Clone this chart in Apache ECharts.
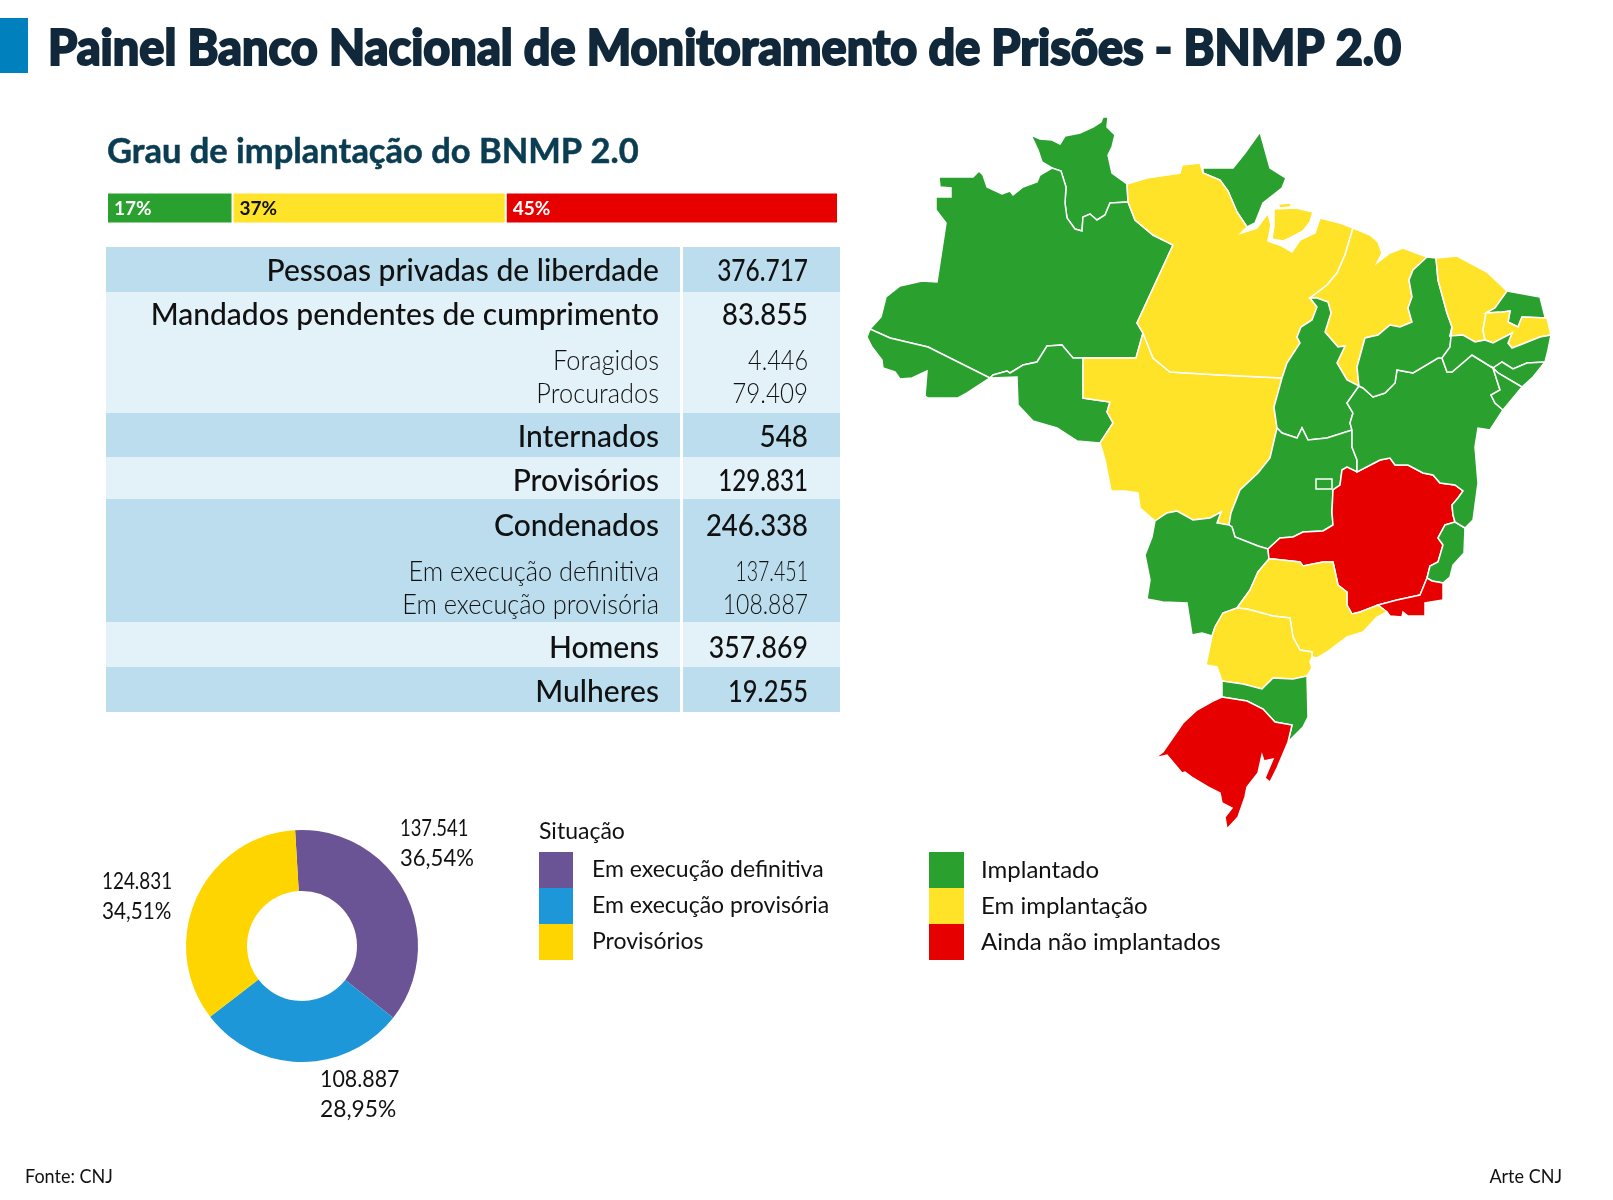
<!DOCTYPE html>
<html>
<head>
	<meta charset="UTF-8">
	<title>Painel BNMP 2.0</title>
	<script src="https://cdn.jsdelivr.net/npm/echarts@6/dist/echarts.min.js"></script>
	<style>
		html, body { margin: 0; padding: 0; background: #fff; }
		#main { width: 1613px; height: 1200px; }
	</style>
</head>
<body>
	<div id="main"></div>
	<script type="text/javascript">
		// dados
		var titleText = 'Painel Banco Nacional de Monitoramento de Prisões - BNMP 2.0';
		var subtitleText = 'Grau de implantação do BNMP 2.0';
		var statusNames = ['Implantado', 'Em implantação', 'Ainda não implantados'];
		var statusShare = [17, 37, 45];

		var rowLabels = ['Pessoas privadas de liberdade', 'Mandados pendentes de cumprimento', 'Foragidos', 'Procurados', 'Internados', 'Provisórios', 'Condenados', 'Em execução definitiva', 'Em execução provisória', 'Homens', 'Mulheres'];
		var rowValues = ['376.717', '83.855', '4.446', '79.409', '548', '129.831', '246.338', '137.451', '108.887', '357.869', '19.255'];

		var situationNames = ['Em execução definitiva', 'Em execução provisória', 'Provisórios'];
		var situationShare = [36.54, 28.95, 34.51];
		var situationCounts = ['137.541', '108.887', '124.831'];
		var situationShareLabels = ['36,54%', '28,95%', '34,51%'];

		var statesImplantado = ['AM', 'RR', 'AP', 'AC', 'RO', 'TO', 'PI', 'RN', 'PE', 'AL', 'SE', 'BA', 'GO', 'DF', 'MS', 'ES', 'SC'];
		var statesEmImplantacao = ['PA', 'MA', 'CE', 'PB', 'MT', 'SP', 'PR'];
		var statesAindaNao = ['MG', 'RJ', 'RS'];

		// contornos dos estados: trechos de fronteira compartilhados
		var seg = {
			rr_coast: [[1052,168],[1042,162],[1038,150],[1031,135],[1040,139],[1052,140],[1060,144],[1065,136],[1080,133],[1093,127],[1101,122],[1103,117],[1108,117],[1107,127],[1115,135],[1112,147],[1108,155],[1112,173],[1127,184]],
			rr_pa: [[1127,184],[1128,202]],
			rr_am: [[1128,202],[1110,203],[1105,215],[1097,220],[1090,214],[1083,217],[1082,231],[1075,229],[1067,218],[1065,203],[1066,187],[1061,171],[1052,168]],
			am_coast: [[1052,168],[1040,175],[1037,182],[1023,187],[1013,195],[1010,191],[1002,194],[987,187],[983,175],[979,171],[973,177],[939,177],[940,187],[951,188],[951,197],[936,197],[936,210],[946,223],[937,282],[922,281],[900,286],[886,297],[881,317],[870,329]],
			am_ac: [[870,329],[890,338],[928,347],[990,378]],
			am_ro: [[990,378],[993,375],[1007,371],[1010,373],[1023,365],[1037,362],[1047,346],[1062,345],[1073,358],[1083,358]],
			am_mt: [[1083,358],[1136,358],[1143,333]],
			am_pa: [[1143,333],[1137,323],[1173,245],[1153,235],[1135,220],[1128,202]],
			ac_coast: [[990,378],[967,393],[958,398],[928,398],[925,396],[927,371],[912,378],[900,379],[895,372],[883,368],[882,360],[872,347],[867,337],[870,329]],
			ro_mt: [[1083,358],[1083,398],[1110,402],[1107,412],[1113,423],[1100,443]],
			ro_coast: [[1100,443],[1077,441],[1057,428],[1033,421],[1018,405],[1017,377],[990,378]],
			mt_coast: [[1100,443],[1105,460],[1111,491],[1125,491],[1138,493],[1140,508],[1155,521]],
			mt_ms: [[1155,521],[1167,513],[1177,511],[1193,520],[1210,518],[1221,512],[1217,523],[1229,525]],
			mt_go: [[1229,525],[1231,513],[1240,490],[1258,473],[1270,458],[1277,428]],
			mt_to: [[1277,428],[1274,407],[1282,378]],
			mt_pa: [[1282,378],[1220,375],[1170,372],[1153,358],[1143,333]],
			pa_coast: [[1127,184],[1147,178],[1180,173],[1182,165],[1200,163],[1203,173]],
			pa_ap: [[1203,173],[1220,180],[1228,191],[1237,212],[1247,227]],
			ap_coast: [[1203,173],[1203,168],[1233,168],[1245,153],[1260,132],[1270,168],[1286,178],[1282,188],[1263,203],[1255,223],[1247,227]],
			pa_coast2: [[1247,227],[1241,233],[1257,228],[1268,213],[1271,225],[1268,241],[1282,246],[1292,252],[1300,240],[1315,233],[1320,218],[1340,223],[1353,228]],
			pa_ma: [[1353,228],[1345,255],[1337,273],[1327,285],[1310,298]],
			pa_to: [[1310,298],[1317,307],[1312,320],[1301,327],[1297,337],[1300,343],[1287,363],[1282,378]],
			ma_coast: [[1353,228],[1370,235],[1378,242],[1382,253],[1377,263],[1390,253],[1403,248],[1427,257]],
			ma_pi: [[1427,257],[1413,270],[1409,280],[1412,297],[1408,308],[1412,322],[1400,327],[1390,325],[1378,335],[1365,338],[1357,367],[1359,386]],
			ma_to: [[1359,386],[1347,380],[1337,363],[1345,346],[1338,347],[1325,332],[1331,313],[1328,302],[1317,298],[1310,298]],
			to_go: [[1277,428],[1282,433],[1297,438],[1302,428],[1308,440],[1327,438],[1352,430]],
			to_ba: [[1352,430],[1350,423],[1353,413],[1347,403],[1359,386]],
			go_ba: [[1352,430],[1352,447],[1357,460],[1357,472]],
			go_mg: [[1357,472],[1347,467],[1342,470],[1340,485],[1333,490],[1332,512],[1333,525],[1323,531],[1303,532],[1293,537],[1280,538],[1268,549]],
			go_ms: [[1268,549],[1258,546],[1235,537],[1232,527],[1229,525]],
			ms_mg: [[1268,549],[1269,559]],
			ms_sp: [[1269,559],[1258,572],[1250,590],[1237,608]],
			ms_pr: [[1237,608],[1223,613],[1215,627],[1212,636]],
			ms_coast: [[1212,636],[1202,633],[1192,635],[1187,603],[1163,602],[1147,599],[1150,580],[1147,565],[1145,555],[1152,537],[1155,521]],
			ba_mg: [[1357,472],[1380,460],[1390,458],[1395,465],[1408,465],[1423,473],[1433,475],[1440,483],[1455,485],[1463,491],[1458,498],[1452,505],[1453,515],[1455,522]],
			mg_es: [[1455,522],[1445,525],[1438,538],[1443,545],[1438,562],[1430,566],[1427,578]],
			ba_es: [[1455,522],[1465,528]],
			es_coast: [[1465,528],[1464,553],[1453,565],[1450,577],[1443,583]],
			es_rj: [[1443,583],[1432,581],[1427,578]],
			mg_rj: [[1427,578],[1420,595],[1397,600],[1378,605]],
			rj_sp: [[1378,605],[1387,612]],
			rj_coast: [[1387,612],[1390,616],[1402,617],[1403,612],[1408,616],[1425,616],[1425,603],[1443,600],[1443,583]],
			mg_sp: [[1378,605],[1360,612],[1352,614],[1347,605],[1347,592],[1338,585],[1333,562],[1323,562],[1303,566],[1300,562],[1273,559],[1269,559]],
			sp_coast: [[1387,612],[1377,617],[1363,632],[1347,637],[1327,652],[1317,658],[1312,657]],
			sp_pr: [[1312,657],[1312,652],[1300,650],[1293,637],[1290,618],[1273,616],[1247,609],[1237,608]],
			pr_coast: [[1312,657],[1310,662],[1312,668],[1307,676]],
			pr_sc: [[1307,676],[1293,679],[1273,678],[1262,689],[1243,684],[1222,681]],
			pr_west: [[1222,681],[1217,667],[1206,665],[1212,636]],
			sc_west: [[1222,681],[1222,697]],
			sc_rs: [[1222,697],[1247,701],[1263,709],[1275,722],[1292,725],[1288,742]],
			sc_coast: [[1288,742],[1303,727],[1308,717],[1307,676]],
			rs_coast: [[1222,697],[1213,701],[1197,710],[1183,723],[1163,752],[1155,758],[1167,755],[1182,773],[1185,772],[1193,778],[1208,787],[1220,793],[1222,803],[1232,808],[1225,817],[1227,829],[1238,817],[1245,797],[1247,787],[1258,773],[1262,755],[1264,761],[1273,759],[1265,778],[1270,782],[1277,768],[1288,742]],
			ba_coast: [[1465,528],[1473,520],[1478,483],[1475,447],[1478,428],[1490,430],[1503,410]],
			ba_se: [[1503,410],[1495,403],[1491,395],[1500,390],[1493,368]],
			ba_pe: [[1493,368],[1472,355],[1452,372],[1447,372],[1442,358]],
			ba_pi: [[1442,358],[1438,358],[1413,373],[1397,370],[1395,383],[1385,393],[1373,397],[1363,388],[1359,386]],
			pi_top: [[1427,257],[1436,258]],
			pi_ce: [[1436,258],[1438,280],[1447,313],[1452,327]],
			pi_pe: [[1452,327],[1450,347],[1442,358]],
			ce_coast: [[1436,258],[1457,256],[1487,272],[1507,291]],
			ce_rn: [[1507,291],[1495,308],[1486,313]],
			ce_pb: [[1486,313],[1483,330],[1485,340]],
			ce_pe: [[1485,340],[1475,342],[1463,335],[1450,336],[1452,327]],
			rn_coast: [[1507,291],[1540,297],[1545,317],[1547,318]],
			rn_pb: [[1547,318],[1522,317],[1518,327],[1508,322],[1510,311],[1502,312],[1486,313]],
			pb_coast: [[1547,318],[1551,335]],
			pb_pe: [[1551,335],[1540,337],[1520,345],[1512,348],[1508,343],[1512,333],[1493,343],[1485,340]],
			pe_coast: [[1551,335],[1548,350],[1545,362]],
			pe_al: [[1545,362],[1527,363],[1513,369],[1502,362],[1493,368]],
			al_coast: [[1545,362],[1533,377],[1522,387]],
			al_se: [[1522,387],[1498,373],[1493,368]],
			se_coast: [[1522,387],[1503,410]]
		};

		// '-' na frente do nome percorre o trecho ao contrário
		var stateRings = {
			RR: ['rr_coast', 'rr_pa', 'rr_am'],
			AM: ['am_coast', 'am_ac', 'am_ro', 'am_mt', 'am_pa', 'rr_am'],
			AC: ['ac_coast', 'am_ac'],
			RO: ['am_ro', 'ro_mt', 'ro_coast'],
			MT: ['-am_mt', 'ro_mt', 'mt_coast', 'mt_ms', 'mt_go', 'mt_to', 'mt_pa'],
			AP: ['ap_coast', '-pa_ap'],
			PA: ['pa_coast', 'pa_ap', 'pa_coast2', 'pa_ma', 'pa_to', 'mt_pa', 'am_pa', '-rr_pa'],
			MA: ['ma_coast', 'ma_pi', 'ma_to', '-pa_ma'],
			TO: ['pa_to', '-mt_to', 'to_go', 'to_ba', 'ma_to'],
			GO: ['mt_go', 'to_go', 'go_ba', 'go_mg', 'go_ms'],
			MS: ['mt_ms', '-go_ms', 'ms_mg', 'ms_sp', 'ms_pr', 'ms_coast'],
			MG: ['-go_mg', 'ba_mg', 'mg_es', 'mg_rj', 'mg_sp', '-ms_mg'],
			ES: ['ba_es', 'es_coast', 'es_rj', '-mg_es'],
			RJ: ['mg_rj', 'rj_sp', 'rj_coast', 'es_rj'],
			SP: ['-ms_sp', '-mg_sp', 'rj_sp', 'sp_coast', 'sp_pr'],
			PR: ['-sp_pr', 'pr_coast', 'pr_sc', 'pr_west', '-ms_pr'],
			SC: ['pr_sc', 'sc_west', 'sc_rs', 'sc_coast'],
			RS: ['-sc_rs', 'rs_coast'],
			BA: ['go_ba', 'ba_mg', 'ba_es', 'ba_coast', 'ba_se', 'ba_pe', 'ba_pi', '-to_ba'],
			PI: ['-ma_pi', 'pi_top', 'pi_ce', 'pi_pe', 'ba_pi'],
			CE: ['ce_coast', 'ce_rn', 'ce_pb', 'ce_pe', '-pi_ce'],
			RN: ['rn_coast', 'rn_pb', '-ce_rn'],
			PB: ['-rn_pb', 'pb_coast', 'pb_pe', '-ce_pb'],
			PE: ['-pb_pe', 'pe_coast', 'pe_al', 'ba_pe', '-pi_pe', '-ce_pe'],
			AL: ['al_coast', 'al_se', '-pe_al'],
			SE: ['-al_se', 'se_coast', 'ba_se']
		};
		var marajo = [[1274,209],[1296,208],[1313,212],[1310,222],[1303,231],[1290,238],[1283,241],[1272,239],[1274,226]];
		var ilhota = [[1278,204],[1292,203],[1290,207],[1280,208]];
		var distritoFederal = [[1316,479],[1332,479],[1332,489],[1316,489]];

		function buildRing(names) {
			var ring = [];
			names.forEach(function (name) {
				var rev = name.charAt(0) === '-';
				var pts = seg[rev ? name.slice(1) : name].slice();
				if (rev) pts.reverse();
				ring = ring.concat(pts);
			});
			return ring;
		}

		var minX = 1e9, maxX = -1e9, minY = 1e9, maxY = -1e9;
		function toGeo(ring) {
			var out = ring.map(function (p) {
				minX = Math.min(minX, p[0]); maxX = Math.max(maxX, p[0]);
				minY = Math.min(minY, p[1]); maxY = Math.max(maxY, p[1]);
				return [p[0], -p[1]];
			});
			out.push(out[0]);
			return out;
		}

		var features = [];
		Object.keys(stateRings).forEach(function (uf) {
			var polys = [[toGeo(buildRing(stateRings[uf]))]];
			if (uf === 'PA') {
				polys.push([toGeo(marajo)]);
				polys.push([toGeo(ilhota)]);
			}
			features.push({ type: 'Feature', properties: { name: uf }, geometry: { type: 'MultiPolygon', coordinates: polys } });
		});
		// o DF fica por cima de Goiás
		features.push({ type: 'Feature', properties: { name: 'DF' }, geometry: { type: 'Polygon', coordinates: [toGeo(distritoFederal)] } });
		echarts.registerMap('brasil', { type: 'FeatureCollection', features: features });

		var stateData = [];
		[statesImplantado, statesEmImplantacao, statesAindaNao].forEach(function (list, i) {
			list.forEach(function (uf) { stateData.push({ name: uf, value: i + 1 }); });
		});

		// layout e cores
		var GREEN = '#2aa02f', YELLOW = '#ffe329', RED = '#e60000';
		var DARK = '#bbddee', LIGHT = '#e3f1f8';
		var FONT = 'Lato, sans-serif';
		var bandTops = [247, 292, 413, 457, 499, 622, 667, 712];
		var bandFill = [DARK, LIGHT, DARK, LIGHT, DARK, LIGHT, DARK];
		var rowCenters = [271, 315, 361, 394, 437, 481, 526, 572, 605, 648, 692];
		var isSubRow = [0, 0, 1, 1, 0, 0, 0, 1, 1, 0, 0];
		// a fonte do original tem algarismos proporcionais; o Lato não
		var valueScale = [0.815, 0.914, 0.87, 0.895, 0.93, 0.805, 0.916, 0.725, 0.85, 0.89, 0.85];
		var pieLabelPos = [[400, 829], [320, 1080], [102, 882]];
		var pieCountScale = [0.8, 0.93, 0.82];
		var pieShareScale = [0.96, 0.99, 0.9];

		function txt(text, x, y, size, opt) {
			opt = opt || {};
			return {
				type: 'text', x: x, y: y, scaleX: opt.sx || 1, silent: true,
				style: {
					text: text, fill: opt.color || '#111', textAlign: opt.align || 'left', textVerticalAlign: 'middle',
					stroke: opt.stroke ? (opt.color || '#111') : null, lineWidth: opt.stroke || 0,
					font: (opt.weight || 400) + ' ' + size + 'px ' + FONT
				}
			};
		}

		var graphics = [
			{ type: 'rect', shape: { x: 0, y: 18, width: 28, height: 55 }, style: { fill: '#0080bd' }, silent: true },
			txt(titleText, 48, 49, 49, { weight: 900, color: '#10283a', sx: 0.955, stroke: 2 }),
			txt(subtitleText, 107, 152, 35, { weight: 700, color: '#0a3c52', sx: 0.985, stroke: 0.5 }),
			txt('Situação', 539, 832, 23),
			txt('Fonte: CNJ', 25, 1177, 20, { sx: 0.9 }),
			txt('Arte CNJ', 1562, 1177, 20, { align: 'right', sx: 0.9 })
		];
		bandFill.forEach(function (fill, i) {
			graphics.push({ type: 'rect', shape: { x: 106, y: bandTops[i], width: 574, height: bandTops[i + 1] - bandTops[i] }, style: { fill: fill }, silent: true });
			graphics.push({ type: 'rect', shape: { x: 683, y: bandTops[i], width: 157, height: bandTops[i + 1] - bandTops[i] }, style: { fill: fill }, silent: true });
		});
		rowLabels.forEach(function (label, i) {
			var sub = isSubRow[i];
			var o = { align: 'right', weight: sub ? 300 : 500, color: '#111', sx: sub ? 0.94 : 1 };
			graphics.push(txt(label, 659, rowCenters[i], sub ? 27 : 30, o));
			graphics.push(txt(rowValues[i], 808, rowCenters[i], sub ? 27 : 30, { align: 'right', weight: o.weight, color: o.color, sx: valueScale[i] }));
		});
		situationCounts.forEach(function (count, i) {
			var pos = pieLabelPos[i];
			graphics.push(txt(count, pos[0], pos[1], 23, { sx: pieCountScale[i] }));
			graphics.push(txt(situationShareLabels[i], pos[0], pos[1] + 30, 23, { sx: pieShareScale[i] }));
		});

		var barColors = [GREEN, YELLOW, RED];
		var barTextColors = ['#fff', '#111', '#fff'];
		var barSeries = statusNames.map(function (name, i) {
			return {
				name: name, type: 'bar', stack: 'grau', barWidth: 31, silent: true,
				data: [statusShare[i]],
				itemStyle: { color: barColors[i], borderColor: '#fff', borderWidth: 1 },
				label: { show: true, position: 'insideLeft', distance: 7, offset: [0, 1], formatter: '{c}%', color: barTextColors[i], fontFamily: FONT, fontWeight: 700, fontSize: 19 }
			};
		});

		var option = {
			animation: false,
			textStyle: { fontFamily: FONT },
			graphic: graphics,
			grid: { left: 107, top: 193, width: 731, height: 30 },
			xAxis: { type: 'value', min: 0, max: 99, show: false },
			yAxis: { type: 'category', data: ['Grau'], show: false },
			legend: {
				data: situationNames, orient: 'vertical', left: 539, top: 852, padding: 0, icon: 'rect',
				itemWidth: 34, itemHeight: 36, itemGap: 0, selectedMode: false,
				textStyle: { fontFamily: FONT, fontSize: 23, color: '#111', padding: [3, 0, 0, 14] }
			},
			visualMap: {
				type: 'piecewise', seriesIndex: 3, orient: 'vertical', left: 929, top: 852, padding: 0,
				inverse: true, align: 'left',
				itemWidth: 35, itemHeight: 36, itemGap: 0, textGap: 17, selectedMode: false, itemSymbol: 'rect',
				pieces: [
					{ value: 1, label: statusNames[0], color: GREEN },
					{ value: 2, label: statusNames[1], color: YELLOW },
					{ value: 3, label: statusNames[2], color: RED }
				],
				textStyle: { fontFamily: FONT, fontSize: 24, color: '#111' }
			},
			series: barSeries.concat([
				{
					type: 'map', map: 'brasil', silent: true, roam: false, aspectScale: 1, showLegendSymbol: false,
					left: minX, top: minY, width: maxX - minX, height: maxY - minY,
					data: stateData,
					label: { show: false },
					itemStyle: { borderColor: '#fff', borderWidth: 1.5 },
					emphasis: { disabled: true }, select: { disabled: true }
				},
				{
					type: 'pie', silent: true, center: [302, 946], radius: [55, 116], startAngle: 93.4, clockwise: true,
					color: ['#6b5495', '#1e97d9', '#ffd500'],
					data: situationNames.map(function (name, i) { return { name: name, value: situationShare[i] }; }),
					label: { show: false },
					labelLine: { show: false }
				}
			])
		};

		var myChart = echarts.init(document.getElementById('main'));
		myChart.setOption(option);
	</script>
</body>
</html>
